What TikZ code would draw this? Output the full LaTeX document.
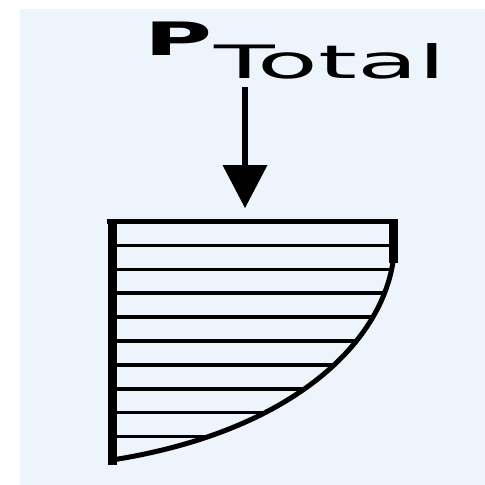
\documentclass[tikz,border=0pt]{standalone}
\usepackage{fontspec}
\setmainfont{DejaVu Sans}
\usepackage{graphicx}
\definecolor{bgblue}{RGB}{237,244,251}
\tikzset{
  labeltext/.style={inner sep=0pt, outer sep=0pt, font=\fontsize{46}{50}\selectfont},
  shaft/.style={line width=5.5pt},
  headfill/.style={fill=black},
  frameline/.style={line width=5pt},
  sideline/.style={line width=9pt},
  hatchline/.style={line width=3.5pt},
  curveline/.style={line width=5pt}
}
\begin{document}
\begin{tikzpicture}[x=1pt,y=-1pt]
\useasboundingbox (0,0) rectangle (485,485);
\fill[white] (0,0) rectangle (485,485);
\fill[bgblue] (20,9) rectangle (485,485);

% label
\node[labeltext, anchor=base west] (plabel) at (144,55) {\resizebox{68pt}{\height}{\bfseries P}};
\node[labeltext, anchor=base west] (tlabel) at (214,78) {\resizebox{232pt}{\height}{Total}};

% arrow
\coordinate (arrtop) at (245,87);
\coordinate (arrbase) at (245,166);
\coordinate (arrtip) at (245,208);
\draw[shaft] (arrtop) -- (arrbase);
\fill[headfill] (222.5,165) -- (267.5,165) -- (arrtip) -- cycle;

% hatching
\begin{scope}
  \clip (112,221.5) -- (393,221.5) -- (393,262) .. controls (380,345) and (290,432) .. (112,460) -- cycle;
  \foreach \k in {1,...,9} {
    \draw[hatchline] (100,221.5+\k*23.9) -- (400,221.5+\k*23.9);
  }
\end{scope}

% outline
\draw[curveline] (393,262) .. controls (380,345) and (290,432) .. (112,460);
\draw[frameline] (107,221.5) -- (398,221.5);
\draw[sideline] (393.5,219) -- (393.5,263);
\draw[sideline] (112,219) -- (112,465);
\end{tikzpicture}
\end{document}
